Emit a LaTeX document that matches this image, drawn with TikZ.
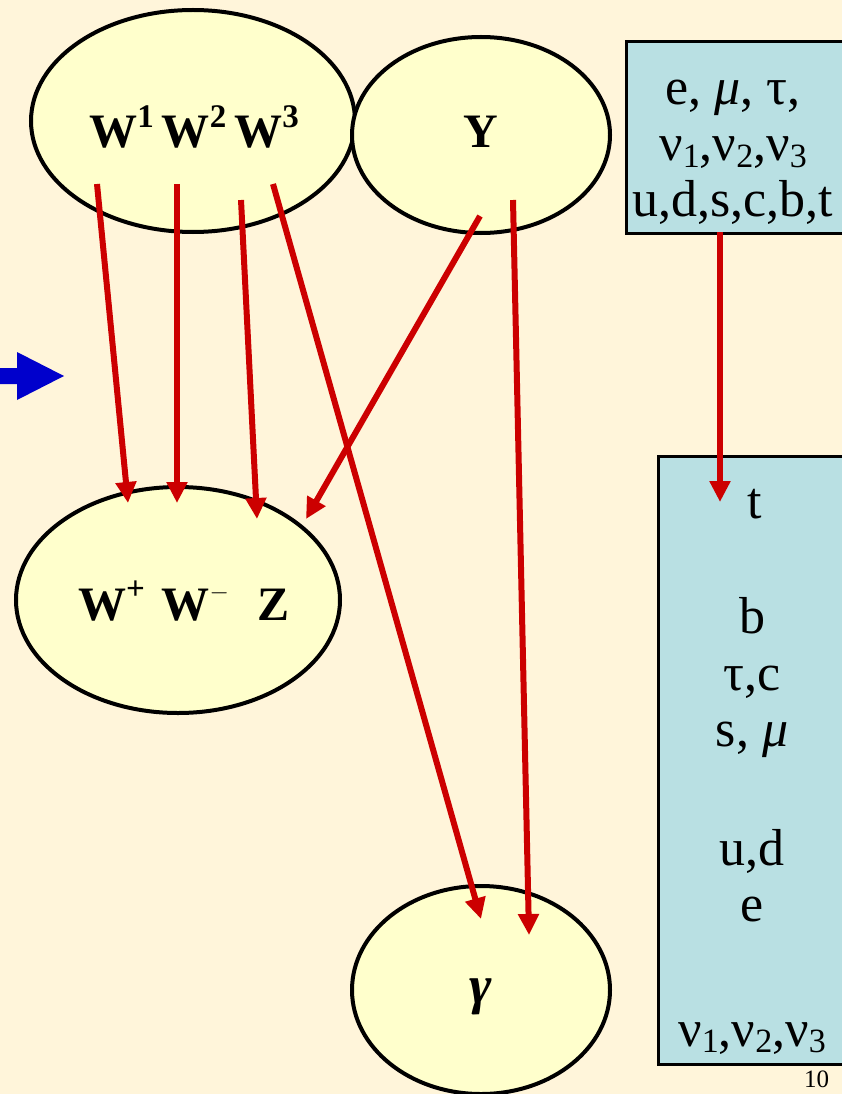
\documentclass[tikz,border=0pt]{standalone}
\usepackage{fontspec}
\setmainfont{Liberation Serif}
\usetikzlibrary{shapes.geometric,arrows.meta}

\definecolor{bg}{HTML}{FFF5DA}
\definecolor{ellfill}{HTML}{FFFFCC}
\definecolor{boxfill}{HTML}{B9E0E3}
\definecolor{arrred}{HTML}{CC0000}
\definecolor{arrblue}{HTML}{0000CC}

% raised / lowered small digits and signs
\newcommand{\upidx}[1]{\raisebox{0.42em}{\fontsize{33}{33}\selectfont #1}}
\newcommand{\lowidx}[1]{\raisebox{-0.13em}{\fontsize{34}{34}\selectfont #1}}

\begin{document}
\begin{tikzpicture}[x=1pt,y=-1pt,
  ell/.style={ellipse, draw=black, line width=4pt, fill=ellfill, inner sep=0pt},
  partbox/.style={draw=black, line width=3pt, fill=boxfill, inner sep=0pt, anchor=north west},
  conn/.style={draw=arrred, line width=6pt, -{Triangle[length=21pt,width=20pt]}},
  bosonlab/.style={anchor=base, font=\fontsize{48}{58}\selectfont\bfseries, inner sep=0pt},
  fermlab/.style={anchor=base, font=\fontsize{52}{60}\selectfont, inner sep=0pt}]

\fill[bg] (0,0) rectangle (842,1094);
\useasboundingbox (0,0) rectangle (842,1094);

% blue block arrow at the left edge
\fill[arrblue] (0,368) -- (17,368) -- (17,352) -- (64,376) -- (17,400) -- (17,384) -- (0,384) -- cycle;

% gauge boson ellipses
\node[ell, minimum width=324pt, minimum height=222pt] (W) at (193,121) {};
\node[ell, minimum width=258pt, minimum height=196pt] (Y) at (481,135) {};
\node[ell, minimum width=324pt, minimum height=226pt] (WZ) at (178,600) {};
\node[ell, minimum width=258pt, minimum height=208pt] (G) at (481,990) {};

\node[bosonlab] (Wlab) at (194,148) {W\upidx{1}\,W\upidx{2}\,W\upidx{3}};
\node[bosonlab] (Ylab) at (481,148) {Y};
\node[bosonlab] (WZlab) at (184,620) {W\upidx{+}\hspace{0.35em}W\upidx{$-$}\hspace{0.6em}Z};
\node[bosonlab, font=\fontsize{54}{60}\selectfont\bfseries\itshape] (Glab) at (481,1003) {γ};

% fermion boxes
\node[partbox, minimum width=250pt, minimum height=192pt] (top) at (625,40) {};
\node[partbox, minimum width=220pt, minimum height=608pt] (bot) at (657,455) {};

% the three generations, listed together
\node[anchor=north, inner sep=0pt, align=center, font=\fontsize{52}{56}\selectfont] (gen) at (733,80)
  {e, \textit{μ}, τ,\\ ν\lowidx{1},ν\lowidx{2},ν\lowidx{3}\\ u,d,s,c,b,t};

\node[fermlab] (m1) at (755,518) {t};
\node[fermlab] (m2) at (752,633) {b};
\node[fermlab] (m3) at (752,690) {τ,c};
\node[fermlab] (m4) at (752,746) {s, \textit{μ}};
\node[fermlab] (m5) at (752,865) {u,d};
\node[fermlab] (m6) at (752,921) {e};
\node[fermlab] (m7) at (752,1046) {ν\lowidx{1},ν\lowidx{2},ν\lowidx{3}};

% page number in the corner
\node[anchor=north west, inner sep=0pt, font=\fontsize{25}{25}\selectfont] (pg) at (804,1071) {10};

% connector end points
\coordinate (a1) at (97,184);  \coordinate (b1) at (128,503);
\coordinate (a2) at (177,184); \coordinate (b2) at (177,503);
\coordinate (a3) at (241,200); \coordinate (b3) at (257,519);
\coordinate (a4) at (273,184); \coordinate (b4) at (481,919);
\coordinate (a5) at (480,216); \coordinate (b5) at (306,519);
\coordinate (a6) at (513,200); \coordinate (b6) at (529,935);
\coordinate (a7) at (720,232); \coordinate (b7) at (720,502);

\draw[conn] (a1) -- (b1);
\draw[conn] (a2) -- (b2);
\draw[conn] (a3) -- (b3);
\draw[conn] (a4) -- (b4);
\draw[conn] (a5) -- (b5);
\draw[conn] (a6) -- (b6);
\draw[conn] (a7) -- (b7);
\end{tikzpicture}
\end{document}
